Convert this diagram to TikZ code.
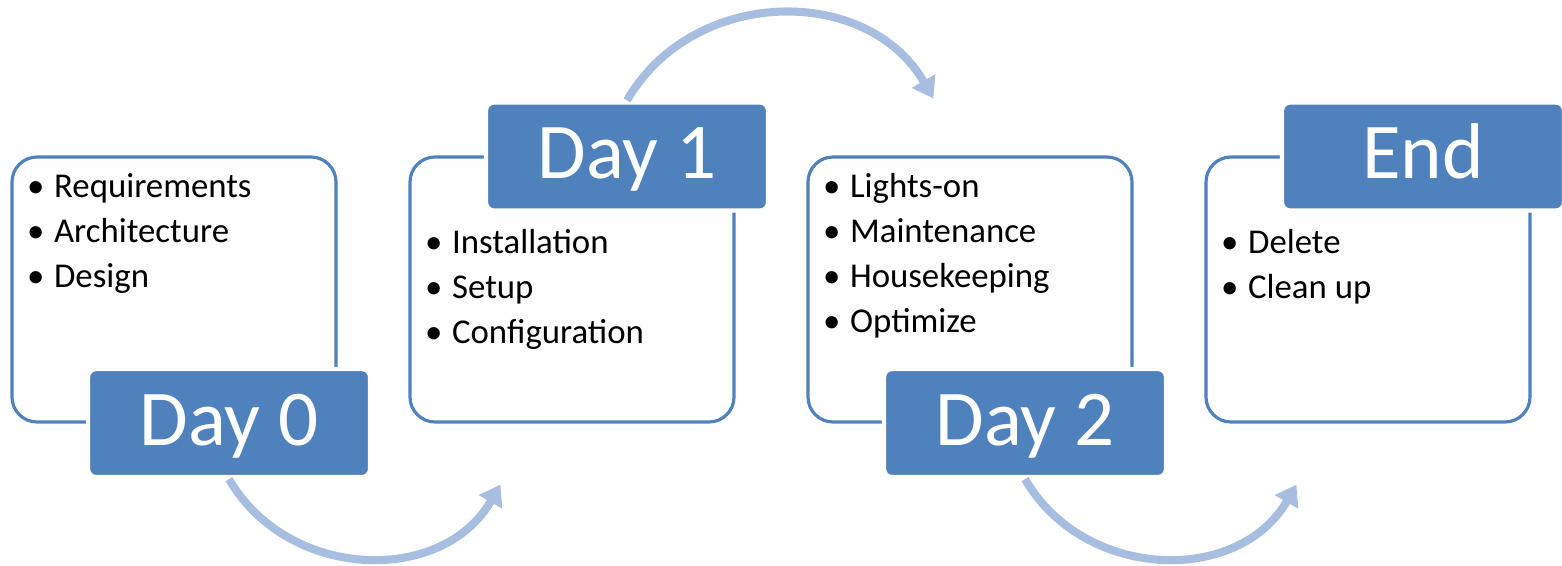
\documentclass[tikz,border=0pt]{standalone}
\usepackage{fontspec}
\setmainfont{Carlito}
\usetikzlibrary{arrows.meta}
\definecolor{stageblue}{RGB}{79,129,189}
\definecolor{flowblue}{RGB}{168,190,224}
\newcommand{\stageitem}[1]{\makebox[0.27cm][l]{\textbullet}#1}
\tikzset{
    stagebox/.style={draw=stageblue,line width=0.9pt,fill=white!99.5!black,rounded corners=0.25cm,
        minimum width=3.24cm,minimum height=2.65cm,inner sep=0},
    stagetab/.style={draw=white,line width=1.2pt,fill=stageblue,rounded corners=0.08cm,
        minimum width=2.82cm,minimum height=1.08cm,inner sep=0,text=white,
        font=\fontsize{22.5}{27}\selectfont,text height=14.5pt,text depth=1.7pt},
    items/.style={anchor=base west,inner sep=0,font=\fontsize{9.9}{12.8}\selectfont},
    flow/.style={draw=flowblue,line width=2.3pt,-{Triangle[width=0.26cm,length=0.2cm]}}
}
\begin{document}
\begin{tikzpicture}
    \useasboundingbox (0,0) rectangle (15.62,5.65);
    \foreach \i/\lbl/\ty in {0/Day 0/1.42,1/Day 1/4.085,2/Day 2/1.42,3/End/4.085}{
        \pgfmathsetmacro{\bx}{1.74+3.98*\i}
        \node[stagebox] (box\i) at (\bx,2.755) {};
        \node[stagetab] (tab\i) at (\bx+0.55,\ty) {\lbl};
    }

    \node[items] (list0) at ([shift={(0.16,-0.42)}]box0.north west) {\begin{tabular}[t]{@{}l@{}}
        \stageitem{Requirements}\\ \stageitem{Architecture}\\ \stageitem{Design}\end{tabular}};
    \node[items] (list1) at ([shift={(0.16,-0.98)}]box1.north west) {\begin{tabular}[t]{@{}l@{}}
        \stageitem{Installation}\\ \stageitem{Setup}\\ \stageitem{Configuration}\end{tabular}};
    \node[items] (list2) at ([shift={(0.16,-0.42)}]box2.north west) {\begin{tabular}[t]{@{}l@{}}
        \stageitem{Lights-on}\\ \stageitem{Maintenance}\\ \stageitem{Housekeeping}\\ \stageitem{Optimize}\end{tabular}};
    \node[items] (list3) at ([shift={(0.16,-0.98)}]box3.north west) {\begin{tabular}[t]{@{}l@{}}
        \stageitem{Delete}\\ \stageitem{Clean up}\end{tabular}};

    % curved arrows between the stages
    \coordinate (in1) at ([shift={(0.92,-0.61)}]box1.south west);
    \coordinate (in2) at ([shift={(1.27,0.57)}]box2.north west);
    \coordinate (in3) at ([shift={(0.92,-0.61)}]box3.south west);
    \draw[flow] (tab0.south) to[out=-60,in=-120,looseness=1.1] (in1);
    \draw[flow] (tab1.north) to[out=60,in=120,looseness=1.1] (in2);
    \draw[flow] (tab2.south) to[out=-60,in=-120,looseness=1.1] (in3);
\end{tikzpicture}
\end{document}
